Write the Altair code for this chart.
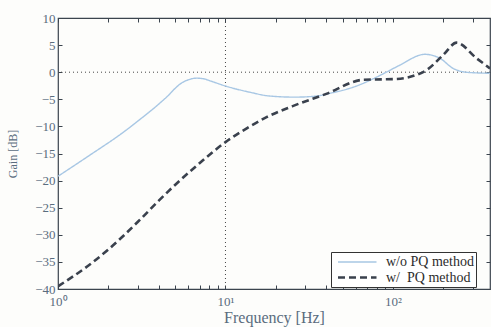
import altair as alt
import pandas as pd

# ---- data ----
freq_wo = [1, 1.55, 2.45, 3.09, 4.06, 4.5, 5, 5.35, 6, 6.73, 7.5, 8.2, 10, 14, 18.4, 26, 35, 42, 60, 80, 90, 110, 155, 191, 229, 273, 380]
gain_wo = [-19.2, -15.3, -11.1, -8.7, -5.7, -4.45, -3.0, -2.2, -1.4, -1.1, -1.25, -1.65, -2.55, -3.7, -4.4, -4.6, -4.4, -3.9, -2.6, -0.9, -0.1, 1.3, 3.3, 2.56, 0.7, 0.0, -0.2]

freq_w = [1, 1.5, 2, 3, 4, 5, 7, 10, 13.4, 17.6, 25, 40, 66.5, 105, 138, 159, 200, 240, 316, 380]
gain_w = [-39.5, -35.8, -32.7, -27.6, -23.7, -20.8, -16.8, -12.9, -10.35, -8.3, -6.3, -4.0, -1.4, -1.25, -0.5, 0.4, 3.2, 5.45, 2.56, 0.7]

series_names = ["w/o PQ method", "w/\u00a0 PQ method"]
x_ticks = [1, 2, 3, 4, 5, 6, 7, 8, 9, 10, 20, 30, 40, 50, 60, 70, 80, 90, 100, 200, 300]
y_ticks = [-40, -35, -30, -25, -20, -15, -10, -5, 0, 5, 10]
x_grid = [10]
y_grid = [0]

df = pd.concat([
    pd.DataFrame({"freq": freq_wo, "gain": gain_wo, "series": series_names[0], "order": range(len(freq_wo))}),
    pd.DataFrame({"freq": freq_w, "gain": gain_w, "series": series_names[1], "order": range(len(freq_w))}),
])

FONT = "Liberation Serif"
TEXT = "#5a6c7e"
AXIS = "#3b444e"

x_scale = alt.Scale(type="log", domain=[1, 380], nice=False)
y_scale = alt.Scale(domain=[-40, 10], nice=False)

label_expr = ("datum.value == 1 ? '10\u2070' : datum.value == 10 ? '10\u00b9' : "
              "datum.value == 100 ? '10\u00b2' : ''")

lines = alt.Chart(df).mark_line(interpolate="monotone", clip=True).encode(
    x=alt.X("freq:Q", scale=x_scale,
            axis=alt.Axis(orient="bottom", values=x_ticks, labelExpr=label_expr,
                          offset=-4, tickSize=4, domain=False, grid=False,
                          labelPadding=6, title="Frequency [Hz]", titlePadding=1,
                          titleFontSize=16,
                          labelFlush=False, labelOverlap=False)),
    y=alt.Y("gain:Q", scale=y_scale,
            axis=alt.Axis(orient="left", values=y_ticks, offset=-4, tickSize=4,
                          domain=False, grid=False, labelPadding=3,
                          title="Gain [dB]", titlePadding=15)),
    color=alt.Color("series:N",
                    scale=alt.Scale(domain=series_names, range=["#a8c7e4", "#3a414d"]),
                    legend=alt.Legend(title=None)),
    strokeDash=alt.StrokeDash("series:N",
                              scale=alt.Scale(domain=series_names, range=[[1, 0], [7, 4]]),
                              legend=alt.Legend(title=None)),
    strokeWidth=alt.StrokeWidth("series:N",
                                scale=alt.Scale(domain=series_names, range=[1.4, 2.6]),
                                legend=None),
    order="order:Q",
)

vgrid = alt.Chart(pd.DataFrame({"x": x_grid})).mark_rule(
    color="#444444", strokeDash=[1, 3], strokeWidth=1
).encode(
    x=alt.X("x:Q", scale=x_scale,
            axis=alt.Axis(orient="top", values=x_ticks, labels=False, offset=-4,
                          tickSize=4, domain=False, grid=False, title=None))
)

hgrid = alt.Chart(pd.DataFrame({"y": y_grid})).mark_rule(
    color="#444444", strokeDash=[1, 3], strokeWidth=1
).encode(
    y=alt.Y("y:Q", scale=y_scale,
            axis=alt.Axis(orient="right", values=y_ticks, labels=False, offset=-4,
                          tickSize=4, domain=False, grid=False, title=None))
)

chart = alt.layer(vgrid, hgrid, lines).resolve_axis(
    x="independent", y="independent"
).properties(
    width=432, height=271,
    autosize=alt.AutoSizeParams(type="none"),
    padding={"left": 58, "top": 18, "right": 1, "bottom": 38},
    background="#fdfdfb",
).configure_view(
    stroke=AXIS, strokeWidth=1.2, fill="#fdfdfb"
).configure_axis(
    labelFont=FONT, titleFont=FONT, labelColor=TEXT, titleColor=TEXT,
    labelFontSize=13, titleFontSize=12, titleFontWeight="normal",
    tickColor=AXIS, tickWidth=1,
).configure_legend(
    orient="none", legendX=273, legendY=234,
    strokeColor="#333333", fillColor="#ffffff", padding=2,
    labelFont=FONT, labelFontSize=14, labelColor="#2c2c2c",
    symbolType="M-4.5,0H1", symbolSize=196, symbolStrokeWidth=2.2,
    symbolOffset=28, labelOffset=8,
    rowPadding=0, cornerRadius=0,
)

chart.save("out.html", embed_options={"renderer": "svg", "actions": False})
